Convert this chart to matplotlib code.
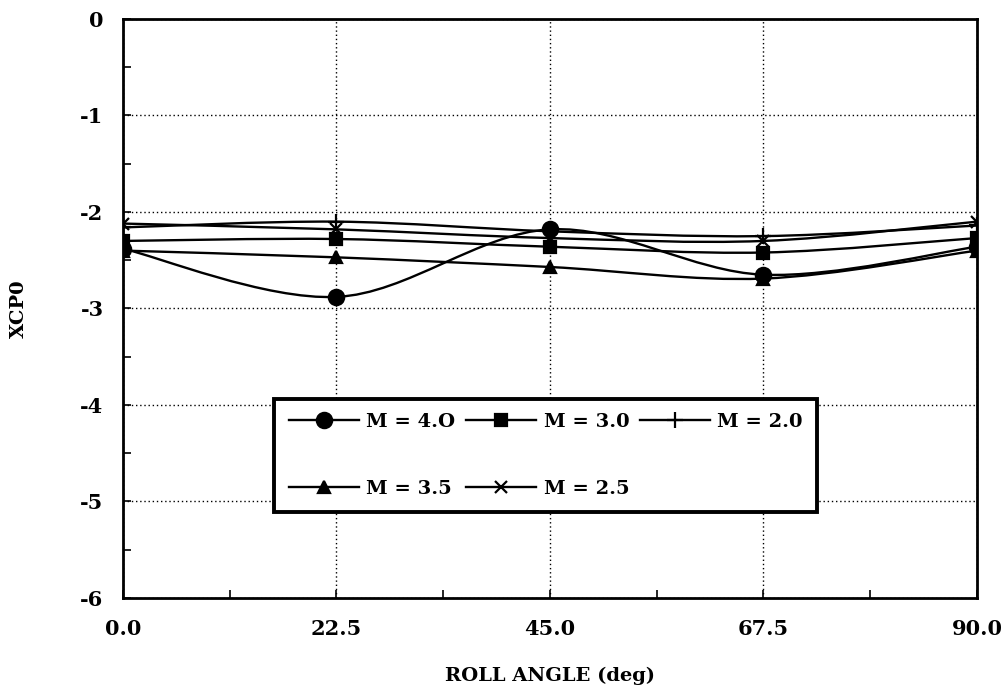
import numpy as np
import matplotlib
matplotlib.use("Agg")
import matplotlib.pyplot as plt
from matplotlib.path import Path
from matplotlib.patches import PathPatch
from matplotlib.ticker import MultipleLocator, FixedLocator

plt.rcParams["font.family"] = "DejaVu Serif"
plt.rcParams["font.weight"] = "bold"
plt.rcParams["axes.unicode_minus"] = False

# roll angles (deg)
roll = [0.0, 22.5, 45.0, 67.5, 90.0]

# XCP0 per Mach number
m40 = [-2.38, -2.88, -2.18, -2.65, -2.36]
m35 = [-2.40, -2.47, -2.57, -2.69, -2.40]
m30 = [-2.30, -2.28, -2.36, -2.42, -2.27]
m25 = [-2.12, -2.18, -2.27, -2.30, -2.10]
m20 = [-2.16, -2.10, -2.20, -2.25, -2.14]

series = [
    ("M = 4.O", m40, "o", 11),
    ("M = 3.5", m35, "^", 9),
    ("M = 3.0", m30, "s", 8),
    ("M = 2.5", m25, "x", 9),
    ("M = 2.0", m20, "+", 11),
]

xticks = [0.0, 22.5, 45.0, 67.5, 90.0]
xticklabels = ["0.0", "22.5", "45.0", "67.5", "90.0"]
yticks = [0, -1, -2, -3, -4, -5, -6]
yticklabels = ["0", "-1", "-2", "-3", "-4", "-5", "-6"]


def smooth_path(xs, ys):
    # bezier through the points, like the spreadsheet "smoothed line"
    pts = np.column_stack([xs, ys])
    verts = [pts[0]]
    codes = [Path.MOVETO]
    n = len(pts)
    for i in range(n - 1):
        p0 = pts[max(i - 1, 0)]
        p1 = pts[i]
        p2 = pts[i + 1]
        p3 = pts[min(i + 2, n - 1)]
        c1 = p1 + (p2 - p0) / 6.0
        c2 = p2 - (p3 - p1) / 6.0
        verts += [c1, c2, p2]
        codes += [Path.CURVE4] * 3
    return Path(verts, codes)


fig = plt.figure(figsize=(10.05, 6.93), dpi=100)
ax = fig.add_axes([0.1224, 0.1371, 0.8497, 0.8355])

handles = []
for label, vals, mk, ms in series:
    ax.add_patch(PathPatch(smooth_path(roll, vals), facecolor="none",
                           edgecolor="black", lw=1.7, zorder=3))
    ax.plot(roll, vals, linestyle="none", marker=mk, ms=ms, color="black",
            mew=1.6, zorder=4)
    h, = ax.plot([], [], color="black", lw=1.7, marker=mk, ms=ms, mew=1.6,
                 label=label)
    handles.append(h)

ax.set_xlim(0, 90)
ax.set_ylim(-6, 0)
ax.xaxis.set_major_locator(FixedLocator(xticks))
ax.set_xticklabels(xticklabels)
ax.xaxis.set_minor_locator(MultipleLocator(11.25))
ax.yaxis.set_major_locator(FixedLocator(yticks))
ax.set_yticklabels(yticklabels)
ax.yaxis.set_minor_locator(MultipleLocator(0.5))

ax.grid(True, which="major", color="black", linestyle=(0, (1, 2)), lw=1.0)
ax.tick_params(which="both", direction="in", labelsize=15, width=1.2)
ax.tick_params(which="major", length=6)
ax.tick_params(which="minor", length=6)
ax.tick_params(axis="y", pad=14)
ax.tick_params(axis="x", pad=15)
for s in ax.spines.values():
    s.set_linewidth(2.0)

ax.set_xlabel("ROLL ANGLE (deg)", fontsize=14, fontweight="bold", labelpad=20)
ax.set_ylabel("XCP0", fontsize=14, fontweight="bold", labelpad=38)

leg = ax.legend(handles=handles, ncol=3, loc="lower left",
                bbox_to_anchor=(0.1768, 0.148, 0.6364, 0.3), mode="expand",
                borderaxespad=0, fontsize=14, frameon=True, fancybox=False,
                handlelength=3.6, labelspacing=2.5, columnspacing=0.6,
                handletextpad=0.4, borderpad=0.75)
leg.get_frame().set_edgecolor("black")
leg.get_frame().set_linewidth(2.8)
leg.get_frame().set_alpha(1)
leg.set_zorder(5)

fig.savefig("out.png", dpi=100)
